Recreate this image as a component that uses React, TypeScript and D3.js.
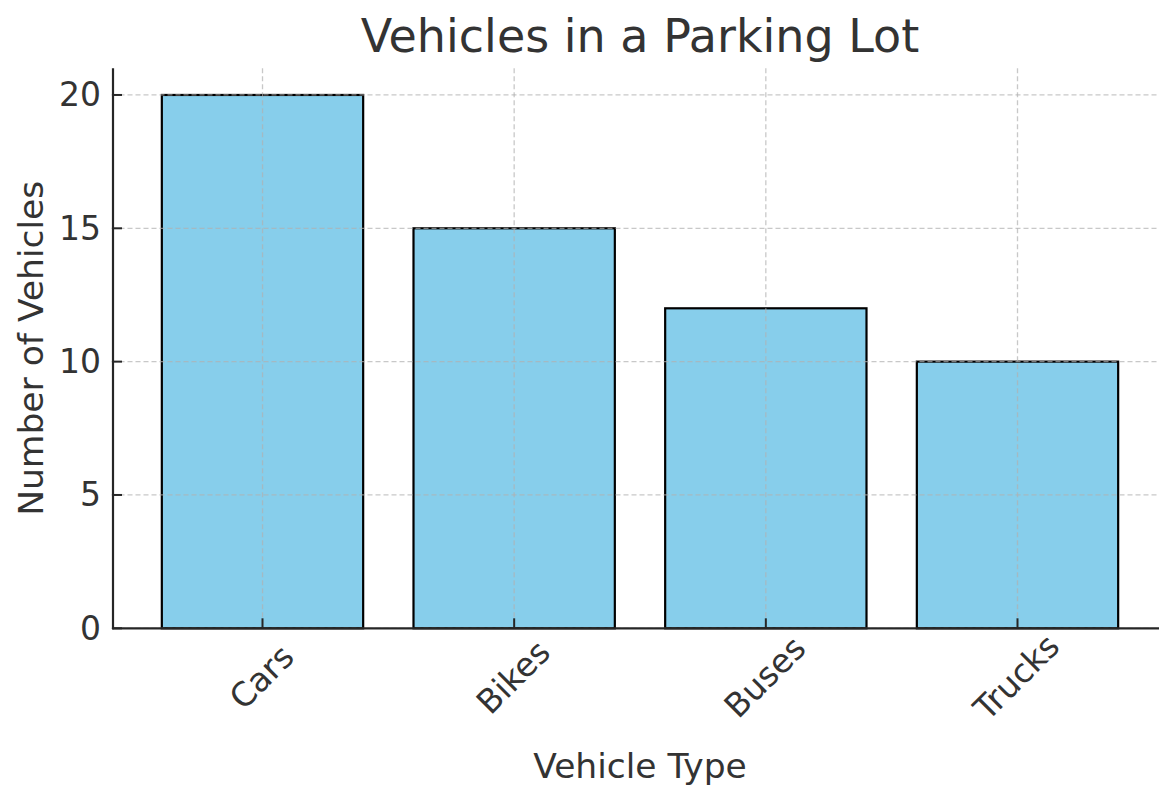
import React from "react";
import * as d3 from "d3";

const categories = ["Cars", "Bikes", "Buses", "Trucks"];
const counts = [20, 15, 12, 10];
const yTicks = [0, 5, 10, 15, 20];

const W = 1159;
const H = 788;
const left = 111.5;
const right = 1168.5;
const top = 68.3;
const bottom = 628.3;
const textColor = "#333333";
const font = "'DejaVu Sans', sans-serif";

export default function App() {
  const x = d3.scaleBand<string>().domain(categories).range([left, right]).paddingInner(0.2).paddingOuter(0.2);
  const y = d3.scaleLinear().domain([0, 21]).range([bottom, top]);
  const cx = (c: string) => (x(c) as number) + x.bandwidth() / 2;

  return (
    <svg width={W} height={H} style={{ position: "absolute", left: 0, top: 0, background: "#fff" }}>
      {/* bars */}
      {categories.map((c, i) => (
        <rect
          key={c}
          x={x(c)}
          y={y(counts[i])}
          width={x.bandwidth()}
          height={y(0) - y(counts[i])}
          fill="#87CEEB"
          stroke="#000"
          strokeWidth={2.2}
        />
      ))}
      {/* grid */}
      {yTicks.map((t) => (
        <line key={"gy" + t} x1={left} x2={W} y1={y(t)} y2={y(t)} stroke="#b0b0b0" strokeOpacity={0.7} strokeWidth={1.3} strokeDasharray="5,3" />
      ))}
      {categories.map((c) => (
        <line key={"gx" + c} x1={cx(c)} x2={cx(c)} y1={top} y2={bottom} stroke="#b0b0b0" strokeOpacity={0.7} strokeWidth={1.3} strokeDasharray="5,3" />
      ))}
      {/* spines */}
      <line x1={113} x2={113} y1={top} y2={bottom + 1} stroke="#262626" strokeWidth={2.2} />
      <line x1={112} x2={W} y1={bottom} y2={bottom} stroke="#262626" strokeWidth={2.2} />
      {/* ticks */}
      {yTicks.map((t) => (
        <g key={"ty" + t}>
          <line x1={113} x2={122} y1={y(t)} y2={y(t)} stroke="#262626" strokeWidth={2} />
          <text x={101} y={y(t)} textAnchor="end" dominantBaseline="central" fontFamily={font} fontSize={33} fill={textColor}>
            {t}
          </text>
        </g>
      ))}
      {categories.map((c) => (
        <g key={"tx" + c}>
          <line x1={cx(c)} x2={cx(c)} y1={bottom} y2={bottom - 10} stroke="#262626" strokeWidth={2} />
          <text
            transform={`translate(${cx(c) - 1},${677}) rotate(-45)`}
            textAnchor="middle"
            dominantBaseline="central"
            fontFamily={font}
            fontSize={33}
            fill={textColor}
          >
            {c}
          </text>
        </g>
      ))}
      {/* labels */}
      <text x={(left + right) / 2} y={52} textAnchor="middle" fontFamily={font} fontSize={46} fill={textColor}>
        Vehicles in a Parking Lot
      </text>
      <text x={(left + right) / 2} y={778} textAnchor="middle" fontFamily={font} fontSize={34.5} fill={textColor}>
        Vehicle Type
      </text>
      <text transform={`translate(43,${(top + bottom) / 2}) rotate(-90)`} textAnchor="middle" fontFamily={font} fontSize={34.5} fill={textColor}>
        Number of Vehicles
      </text>
    </svg>
  );
}
